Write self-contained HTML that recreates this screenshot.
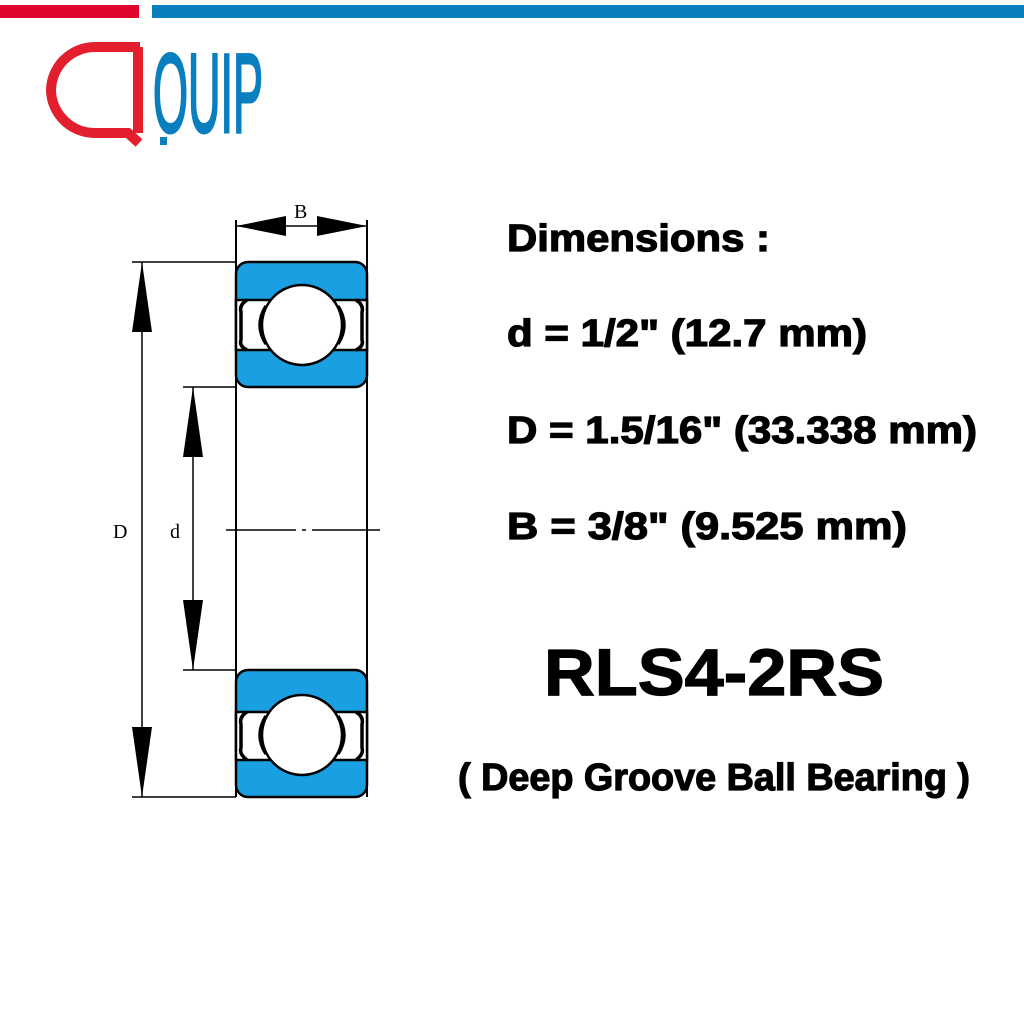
<!DOCTYPE html>
<html><head><meta charset="utf-8"><style>html,body{margin:0;padding:0;background:#fff}svg{display:block}</style></head>
<body>
<svg width="1024" height="1024" viewBox="0 0 1024 1024" xmlns="http://www.w3.org/2000/svg" font-family="Liberation Sans, sans-serif">
<rect x="0" y="5" width="139" height="13" fill="#e0042c"/>
<rect x="152" y="5" width="872" height="13" fill="#0a7fbf"/>
<path d="M140 47 L95 47 A44 44 0 0 0 51 91 A44 44 0 0 0 95 133 L128 133 L139 143" fill="none" stroke="#e31e2d" stroke-width="10"/>
<line x1="138" y1="47" x2="138" y2="133" stroke="#e31e2d" stroke-width="10"/>
<text x="153" y="132" font-size="112" fill="#0a7fbf" stroke="#0a7fbf" stroke-width="3" font-family="Liberation Sans Narrow, Liberation Sans, sans-serif" textLength="110" lengthAdjust="spacingAndGlyphs">OUIP</text>
<rect x="160" y="137" width="7" height="8" fill="#0a7fbf"/>
<g stroke="#000" fill="none" stroke-width="2">
<line x1="236" y1="220" x2="236" y2="797"/>
<line x1="367" y1="220" x2="367" y2="797"/>
</g>
<g stroke="#000" stroke-width="2.5">
<rect x="236" y="262" width="131" height="125" rx="12" fill="#1aa0e2"/>
<rect x="236" y="300" width="131" height="50" fill="#fff"/>
<circle cx="302" cy="325" r="40" fill="#fff"/>
<path d="M247 300 q-8 5 -6 12 v28 q-2 6 6 10 M356 300 q8 5 6 12 v28 q2 6 -6 10 M266 306 q-12 19 0 38 M338 306 q12 19 0 38" fill="none" stroke-width="3.5"/>
<rect x="236" y="670" width="131" height="127" rx="12" fill="#1aa0e2"/>
<rect x="236" y="712" width="131" height="48" fill="#fff"/>
<circle cx="302" cy="735" r="40" fill="#fff"/>
<path d="M247 712 q-8 5 -6 12 v24 q-2 6 6 12 M356 712 q8 5 6 12 v24 q2 6 -6 12 M266 716 q-12 19 0 38 M338 716 q12 19 0 38" fill="none" stroke-width="3.5"/>
</g>
<g stroke="#000" stroke-width="1.5">
<line x1="132" y1="262" x2="236" y2="262"/>
<line x1="132" y1="797" x2="236" y2="797"/>
<line x1="142" y1="262" x2="142" y2="797"/>
<line x1="183" y1="387" x2="236" y2="387"/>
<line x1="183" y1="670" x2="236" y2="670"/>
<line x1="193" y1="387" x2="193" y2="670"/>
<line x1="236" y1="226" x2="367" y2="226"/>
<line x1="226" y1="530" x2="380" y2="530" stroke-dasharray="70,6,4,6"/>
</g>
<g fill="#000">
<path d="M142 262 L132 332 L152 332Z"/><path d="M142 797 L132 727 L152 727Z"/>
<path d="M193 387 L183 457 L203 457Z"/><path d="M193 670 L183 600 L203 600Z"/>
<path d="M236 226 L286 216 L286 236Z"/><path d="M367 226 L317 216 L317 236Z"/>
</g>
<g font-family="Liberation Serif, serif" font-size="20" fill="#000">
<text x="294" y="218">B</text><text x="113" y="538">D</text><text x="170" y="538">d</text>
</g>
<g font-weight="bold" fill="#000" stroke="#000" stroke-width="1.2">
<text x="507" y="251" font-size="38" textLength="263" lengthAdjust="spacingAndGlyphs">Dimensions :</text>
<text x="507" y="346" font-size="38" textLength="360" lengthAdjust="spacingAndGlyphs">d = 1/2" (12.7 mm)</text>
<text x="507" y="443" font-size="38" textLength="470" lengthAdjust="spacingAndGlyphs">D = 1.5/16" (33.338 mm)</text>
<text x="507" y="539" font-size="38" textLength="400" lengthAdjust="spacingAndGlyphs">B = 3/8" (9.525  mm)</text>
<text x="544" y="695" font-size="66" textLength="340" lengthAdjust="spacingAndGlyphs">RLS4-2RS</text>
<text x="458" y="790" font-size="38" textLength="512" lengthAdjust="spacingAndGlyphs">( Deep Groove Ball Bearing )</text>
</g>
</svg>
</body></html>
